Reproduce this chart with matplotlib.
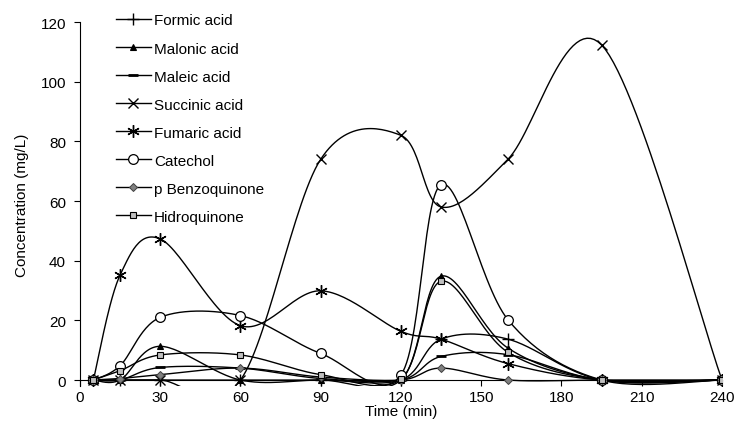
import numpy as np
import matplotlib.pyplot as plt

plt.rcParams['font.family'] = ['Liberation Sans', 'DejaVu Sans']

time = [5, 15, 30, 60, 90, 120, 135, 160, 195, 240]
formic = [0, 0, 0, 0, 0, 0, 13.7, 13.7, 0, 0]
malonic = [0, 0, 11.3, 0, 0, 0, 34.8, 10.7, 0, 0]
maleic = [0, 0, 4.2, 4.0, 0.5, 0, 7.9, 8.5, 0, 0]
succinic = [0, 0, 0, 0, 74, 82, 58, 74, 112.3, 0]
fumaric = [0, 35.2, 47.3, 18.2, 29.9, 16.3, 13.7, 5.5, 0, 0]
catechol = [0, 4.8, 21.0, 21.6, 8.9, 1.7, 65.5, 20.2, 0, 0]
benzoquinone = [0, 0.5, 1.8, 4.0, 1.0, 0, 4.0, 0, 0, 0]
hidroquinone = [0, 3.1, 8.4, 8.4, 1.8, 0.3, 33.1, 9.3, 0, 0]

names = ['Formic acid', 'Malonic acid', 'Maleic acid', 'Succinic acid',
         'Fumaric acid', 'Catechol', 'p Benzoquinone', 'Hidroquinone']
series = [formic, malonic, maleic, succinic, fumaric, catechol, benzoquinone, hidroquinone]


def smooth(x, y, n=30):
    # excel-like smoothed line (catmull-rom bezier)
    x = np.asarray(x, float)
    y = np.asarray(y, float)
    p = np.column_stack([x, y])
    out = []
    t = np.linspace(0, 1, n)[:, None]
    for i in range(len(p) - 1):
        p0 = p[i - 1] if i > 0 else p[i]
        p3 = p[i + 2] if i + 2 < len(p) else p[i + 1]
        c1 = p[i] + (p[i + 1] - p0) / 6
        c2 = p[i + 1] - (p3 - p[i]) / 6
        seg = ((1 - t) ** 3 * p[i] + 3 * (1 - t) ** 2 * t * c1
               + 3 * (1 - t) * t ** 2 * c2 + t ** 3 * p[i + 1])
        out.append(seg if i == 0 else seg[1:])
    out = np.vstack(out)
    return out[:, 0], out[:, 1]


styles = [
    dict(marker='+', ms=8, mew=1.0, mfc='black', mec='black'),
    dict(marker='^', ms=5, mew=0.8, mfc='black', mec='black'),
    dict(marker='_', ms=7, mew=2.0, mfc='black', mec='black'),
    dict(marker='x', ms=7, mew=1.0, mfc='black', mec='black'),
    dict(marker=(6, 2, 0), ms=9, mew=1.0, mfc='black', mec='black'),
    dict(marker='o', ms=7, mew=0.9, mfc='white', mec='black'),
    dict(marker='D', ms=4, mew=0.7, mfc='#808080', mec='#404040'),
    dict(marker='s', ms=4.5, mew=0.8, mfc='#c0c0c0', mec='black'),
]

fig = plt.figure(figsize=(7.37, 4.39), dpi=100)
ax = fig.add_axes([0.1085, 0.1185, 0.8711, 0.8291])

handles = []
for name, vals, st in zip(names, series, styles):
    sx, sy = smooth(time, vals)
    ax.plot(sx, sy, color='black', lw=1.0, zorder=2)
    ax.plot(time, vals, ls='none', zorder=3, **st)
    h, = ax.plot([], [], color='black', lw=1.0, label=name, **st)
    handles.append(h)

ax.set_xlim(0, 240)
ax.set_ylim(-2, 120)
ax.set_xticks(np.arange(0, 241, 30))
ax.set_yticks(np.arange(0, 121, 20))
ax.spines['top'].set_visible(False)
ax.spines['right'].set_visible(False)
ax.spines['bottom'].set_position(('data', 0))
ax.tick_params(direction='out', length=4, width=0.8, labelsize=11)
ax.tick_params(axis='x', pad=3)
ax.tick_params(axis='y', pad=6)
ax.set_xlabel('Time (min)', fontsize=11, labelpad=0)
ax.set_ylabel('Concentration (mg/L)', fontsize=11, labelpad=8)

ax.legend(handles=handles, loc='upper left', bbox_to_anchor=(0.149, 0.981),
          bbox_transform=fig.transFigure, frameon=False, fontsize=11,
          handlelength=2.3, handletextpad=0.2, labelspacing=0.92, borderaxespad=0)

fig.savefig('out.png', dpi=100)
